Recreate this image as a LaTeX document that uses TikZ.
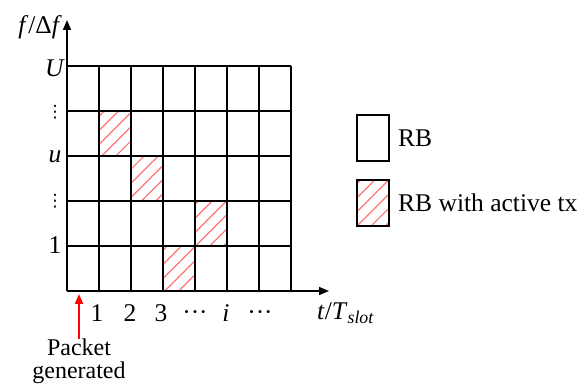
\documentclass[tikz,border=0pt]{standalone}
\usepackage{fontspec}
\setmainfont{Liberation Serif}
\newfontfamily\symfont{DejaVu Sans}
\usetikzlibrary{arrows.meta,patterns.meta}
\begin{document}
\begin{tikzpicture}[x=1pt,y=-1pt,
  gridline/.style={line width=1.5pt},
  hatch/.style={pattern={Lines[angle=45,distance=10pt,line width=1.2pt]},pattern color=red!55},
  lbl/.style={font=\fontsize{25.5}{24}\selectfont, inner sep=0pt},
  dotslbl/.style={font=\symfont\fontsize{17}{17}\selectfont, inner sep=0pt},
  axisarrow/.style={line width=1.5pt,-{Triangle[length=10pt,width=8pt]}}]
\useasboundingbox (0,0) rectangle (582,385);
% hatched RBs
\fill[hatch] (99,111) rectangle (131,156);
\fill[hatch] (131,156) rectangle (163,201);
\fill[hatch] (195,201) rectangle (227,246);
\fill[hatch] (163,246) rectangle (195,291);
% grid
\foreach \x in {99,131,163,195,227,259,291} \draw[gridline] (\x,66) -- (\x,291);
\foreach \y in {66,111,156,201,246} \draw[gridline] (67,\y) -- (291,\y);
% axes
\coordinate (O) at (67,291);
\coordinate (ytip) at (67,20);
\coordinate (xtip) at (329,291);
\draw[axisarrow] (O) -- (ytip);
\draw[axisarrow] (O) -- (xtip);
\node[lbl,anchor=east] (ylab) at (62,27) {\textit{f}/Δ\textit{f}};
\node[lbl,anchor=west] (xlab) at (317,313) {\textit{t}/\textit{T}\textsubscript{\textit{slot}}};
% y tick labels
\node[lbl] (yU) at (55,68) {\textit{U}};
\node[dotslbl] (yd1) at (55,112) {⋮};
\node[lbl] (yu) at (55,157) {\textit{u}};
\node[dotslbl] (yd2) at (55,201) {⋮};
\node[lbl] (y1) at (55,245) {1};
% x tick labels
\node[lbl] (x1) at (97,313) {1};
\node[lbl] (x2) at (130,313) {2};
\node[lbl] (x3) at (161,313) {3};
\node[lbl] (xd1) at (195,316) {···};
\node[lbl] (xi) at (226,313) {\textit{i}};
\node[lbl] (xd2) at (260,316) {···};
% packet generated
\node[lbl,align=center,anchor=north,font=\fontsize{24}{23}\selectfont] (pkt) at (79,339) {Packet\\generated};
\coordinate (pkttip) at (79,294);
\draw[red,line width=2pt,-{Triangle[length=10pt,width=8pt]}] (pkt.north) -- (pkttip);
% legend
\draw[gridline] (357,115) rectangle (389,161);
\fill[hatch] (357,180) rectangle (389,226);
\draw[gridline] (357,180) rectangle (389,226);
\node[lbl,anchor=west] (l1) at (398,138) {RB};
\node[lbl,anchor=west] (l2) at (398,203) {RB with active tx};
\end{tikzpicture}
\end{document}
